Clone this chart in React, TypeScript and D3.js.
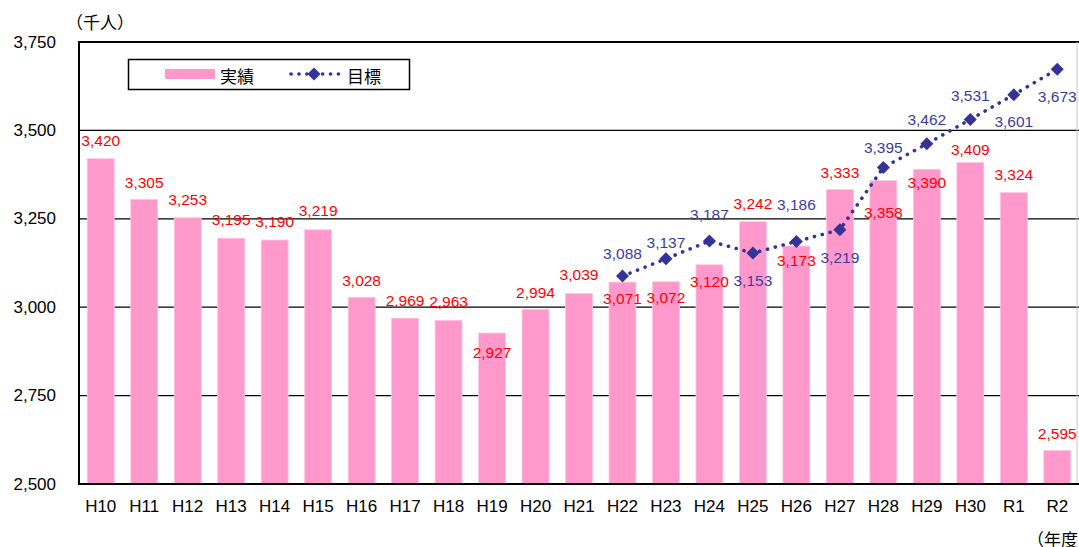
import React from 'react';
import * as d3 from 'd3';

// fiscal years
const years = [
  'H10', 'H11', 'H12', 'H13', 'H14', 'H15', 'H16', 'H17', 'H18', 'H19', 'H20',
  'H21', 'H22', 'H23', 'H24', 'H25', 'H26', 'H27', 'H28', 'H29', 'H30', 'R1', 'R2',
];

// 実績 (thousand people)
const actual = [
  3420, 3305, 3253, 3195, 3190, 3219, 3028, 2969, 2963, 2927, 2994,
  3039, 3071, 3072, 3120, 3242, 3173, 3333, 3358, 3390, 3409, 3324, 2595,
];

// 目標, starts at H22
const targetYears = ['H22', 'H23', 'H24', 'H25', 'H26', 'H27', 'H28', 'H29', 'H30', 'R1', 'R2'];
const target = [3088, 3137, 3187, 3153, 3186, 3219, 3395, 3462, 3531, 3601, 3673];

const yTicks = [2500, 2750, 3000, 3250, 3500, 3750];

// label nudges (px) relative to the mark, negative = above
const actualLabelDy = [
  -18, -17, -18, -19, -19, -19, -17, -18, -19, 19, -17,
  -19, 16, 16, 17, -18, 14, -17, 32, 13, -13, -18, -17,
];
const targetLabelDy = [-23, -16, -27, 27, -37, 28, -20, -24, -24, 27, 27];

const W = 1079;
const H = 547;
const margin = { top: 42, right: 0, bottom: 63, left: 79 };

const FONT = '"Liberation Sans", Arial, "Noto Sans CJK JP", sans-serif';
const CJK = '"Noto Sans CJK JP", sans-serif';
const PINK = '#FF99CC';
const NAVY = '#333399';
const RED = '#FF0000';

const fmt = d3.format(',');

const diamond = (cx: number, cy: number, r: number) =>
  `M${cx},${cy - r}L${cx + r},${cy}L${cx},${cy + r}L${cx - r},${cy}Z`;

export default function App() {
  const x = d3.scaleBand<string>()
    .domain(years)
    .range([margin.left, W - margin.right])
    .paddingInner(0.38)
    .paddingOuter(0.19);

  const y = d3.scaleLinear()
    .domain([2500, 3750])
    .range([H - margin.bottom, margin.top]);

  const cx = (k: string) => (x(k) ?? 0) + x.bandwidth() / 2;

  const line = d3.line<number>()
    .x((_, i) => cx(targetYears[i]))
    .y(d => y(d));

  const x0 = margin.left;
  const x1 = W - margin.right;
  const yBase = y(2500);

  return (
    <svg width={W} height={H} style={{ position: 'absolute', left: 0, top: 0 }} fontFamily={FONT}>
      <rect width={W} height={H} fill="#fff" />

      {/* gridlines */}
      {yTicks.slice(1, -1).map(t => (
        <line key={t} x1={x0} x2={x1} y1={y(t)} y2={y(t)} stroke="#000" strokeWidth={1.3} />
      ))}
      <line x1={x0} x2={x1} y1={y(3750)} y2={y(3750)} stroke="#000" strokeWidth={2} />
      <line x1={x1 - 2} x2={x1 - 2} y1={y(3750)} y2={yBase} stroke="#c8c8c8" strokeWidth={1} />

      {/* bars */}
      {actual.map((v, i) => (
        <rect key={years[i]} x={x(years[i])} y={y(v)} width={x.bandwidth()}
          height={yBase - y(v)} fill={PINK} stroke="#ffc6e2" strokeWidth={0.8} />
      ))}

      {/* axes */}
      <line x1={x0} x2={x0} y1={y(3750) - 1} y2={yBase + 1} stroke="#000" strokeWidth={2} />
      <line x1={x0} x2={x1} y1={yBase} y2={yBase} stroke="#000" strokeWidth={2} />

      {yTicks.map(t => (
        <text key={t} x={56} y={y(t)} textAnchor="end" dominantBaseline="central"
          fontSize={17} fill="#000">{fmt(t)}</text>
      ))}
      {years.map(k => (
        <text key={k} x={cx(k)} y={506} textAnchor="middle" dominantBaseline="central"
          fontSize={17} fill="#000">{k}</text>
      ))}

      {/* target line */}
      <path d={line(target) ?? ''} fill="none" stroke={NAVY} strokeWidth={3.6}
        strokeLinecap="round" strokeDasharray="0.1 8" />
      {target.map((v, i) => (
        <path key={targetYears[i]} d={diamond(cx(targetYears[i]), y(v), 6.5)} fill={NAVY} />
      ))}

      {/* value labels */}
      {actual.map((v, i) => (
        <text key={years[i]} x={cx(years[i])} y={y(v) + actualLabelDy[i]} textAnchor="middle"
          dominantBaseline="central" fontSize={15.5} fill={RED}>{fmt(v)}</text>
      ))}
      {target.map((v, i) => (
        <text key={targetYears[i]} x={cx(targetYears[i])} y={y(v) + targetLabelDy[i]} textAnchor="middle"
          dominantBaseline="central" fontSize={15.5} fill="#3d3d9e">{fmt(v)}</text>
      ))}

      {/* legend */}
      <rect x={128.5} y={59.5} width={281} height={30} fill="#fff" stroke="#000" strokeWidth={1.5} />
      <rect x={165} y={69} width={50} height={10} fill={PINK} />
      <text x={220} y={75} dominantBaseline="central" fontSize={17} fill="#000" fontFamily={CJK}>実績</text>
      <line x1={291} x2={339} y1={74} y2={74} stroke={NAVY} strokeWidth={3.6}
        strokeLinecap="round" strokeDasharray="0.1 7.8" />
      <path d={diamond(314, 74, 6.5)} fill={NAVY} />
      <text x={347} y={75} dominantBaseline="central" fontSize={17} fill="#000" fontFamily={CJK}>目標</text>

      {/* unit captions */}
      <text x={66} y={21} dominantBaseline="central" fontSize={17} fill="#000" fontFamily={CJK}>（千人）</text>
      <text x={1027} y={538} dominantBaseline="central" fontSize={17} fill="#000" fontFamily={CJK}>（年度）</text>
    </svg>
  );
}
